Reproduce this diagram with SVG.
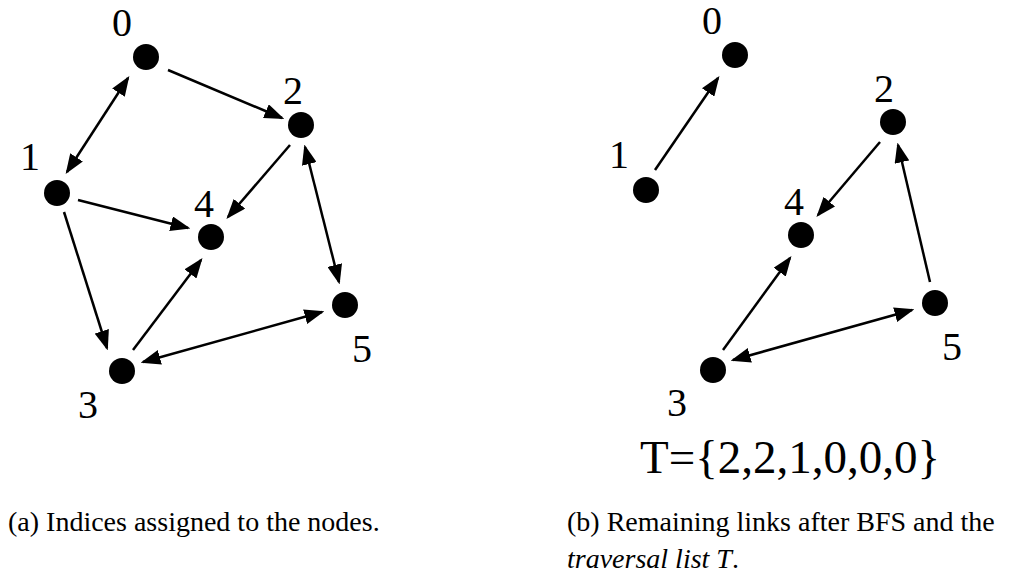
<svg xmlns="http://www.w3.org/2000/svg" width="1024" height="584" viewBox="0 0 1024 584">
<style>
.n{fill:#000}
.e{stroke:#000;stroke-width:2.5;fill:none;marker-end:url(#a)}
.d{marker-start:url(#b)}
.l{font-family:"Liberation Serif",serif;font-size:40px}
.c{font-family:"Liberation Serif",serif;font-size:28px}
</style>
<defs>
<marker id="a" markerWidth="8" markerHeight="6" refX="7" refY="3" orient="auto" markerUnits="strokeWidth"><path d="M0,0L8,3L0,6z"/></marker>
<marker id="b" markerWidth="8" markerHeight="6" refX="1" refY="3" orient="auto" markerUnits="strokeWidth"><path d="M8,0L0,3L8,6z"/></marker>
</defs>
<rect width="1024" height="584" fill="#fff"/>
<g id="connectors">
<line class="e d" x1="128" y1="78" x2="67" y2="172"/>
<line class="e" x1="168" y1="70" x2="282" y2="118"/>
<line class="e" x1="78" y1="200" x2="188" y2="228"/>
<line class="e" x1="64" y1="212" x2="107" y2="348"/>
<line class="e" x1="290" y1="145" x2="228" y2="217"/>
<line class="e d" x1="305" y1="147" x2="339" y2="282"/>
<line class="e" x1="133" y1="350" x2="201" y2="260"/>
<line class="e d" x1="143" y1="362" x2="322" y2="312"/>
<line class="e" x1="655" y1="170" x2="718" y2="78"/>
<line class="e" x1="880" y1="142" x2="818" y2="215"/>
<line class="e" x1="723" y1="350" x2="790" y2="258"/>
<line class="e d" x1="733" y1="360" x2="912" y2="310"/>
<line class="e" x1="930" y1="282" x2="898" y2="145"/>
</g>
<g id="a0"><circle class="n" cx="146" cy="57" r="13"/><text class="l" x="112" y="36">0</text></g>
<g id="a1"><circle class="n" cx="57" cy="193" r="13"/><text class="l" x="20" y="170">1</text></g>
<g id="a2"><circle class="n" cx="301" cy="125" r="13"/><text class="l" x="283" y="104">2</text></g>
<g id="a4"><circle class="n" cx="211" cy="237" r="13"/><text class="l" x="194" y="217">4</text></g>
<g id="a5"><circle class="n" cx="345" cy="305" r="13"/><text class="l" x="352" y="362">5</text></g>
<g id="a3"><circle class="n" cx="122" cy="371" r="13"/><text class="l" x="78" y="418">3</text></g>
<g id="b0"><circle class="n" cx="735" cy="55" r="13"/><text class="l" x="702" y="34">0</text></g>
<g id="b1"><circle class="n" cx="646" cy="190" r="13"/><text class="l" x="609" y="168">1</text></g>
<g id="b2"><circle class="n" cx="893" cy="122" r="13"/><text class="l" x="874" y="102">2</text></g>
<g id="b4"><circle class="n" cx="801" cy="235" r="13"/><text class="l" x="784" y="215">4</text></g>
<g id="b5"><circle class="n" cx="935" cy="303" r="13"/><text class="l" x="942" y="360">5</text></g>
<g id="b3"><circle class="n" cx="713" cy="370" r="13"/><text class="l" x="667" y="416">3</text></g>
<text class="l" x="640" y="473" style="font-size:47px">T={2,2,1,0,0,0}</text>
<text class="c" x="8" y="531">(a)  Indices assigned to the nodes.</text>
<text class="c" x="567" y="531">(b)  Remaining links after BFS and the</text>
<text class="c" x="567" y="568"><tspan font-style="italic">traversal list T</tspan>.</text>
</svg>
